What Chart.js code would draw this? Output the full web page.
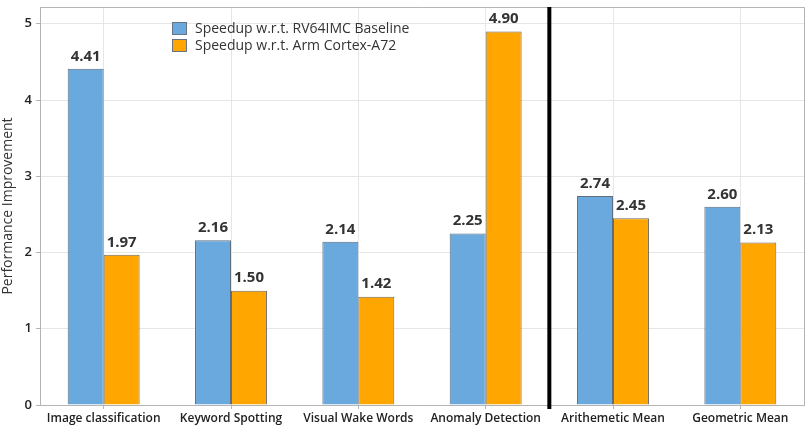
<!DOCTYPE html>
<html lang="en">
<head>
    <meta charset="UTF-8">
    <title>speedup</title>
    <style>
        html, body { margin: 0; padding: 0; background: #ffffff; }
        #wrap { width: 809px; height: 432px; }
    </style>
    <script src="https://cdn.jsdelivr.net/npm/chart.js"></script>
</head>
<body>
    <div id="wrap"><canvas id="graph" width="809" height="432"></canvas></div>
    <script>
        const categories = ["Image classification", "Keyword Spotting", "Visual Wake Words", "Anomaly Detection", "Arithemetic Mean", "Geometric Mean"];
        const rv64Speedup = [4.41, 2.16, 2.14, 2.25, 2.74, 2.60];
        const armSpeedup = [1.97, 1.50, 1.42, 4.90, 2.45, 2.13];
        const yTicks = [0, 1, 2, 3, 4, 5];
        const seriesNames = ["Speedup w.r.t. RV64IMC Baseline", "Speedup w.r.t. Arm Cortex-A72"];
        const seriesColors = ["#69a9dd", "#ffa600"];
        const fontFamily = "'Open Sans', 'Noto Sans', sans-serif";

        // values above bars, frame, divider line and inner legend
        const extras = {
            id: 'extras',
            afterDatasetsDraw(chart) {
                const ctx = chart.ctx;
                const area = chart.chartArea;
                ctx.save();
                ctx.font = "bold 15px " + fontFamily;
                ctx.fillStyle = "#333333";
                ctx.textAlign = "center";
                ctx.textBaseline = "bottom";
                chart.data.datasets.forEach((ds, i) => {
                    chart.getDatasetMeta(i).data.forEach((bar, j) => {
                        ctx.fillText(ds.data[j].toFixed(2), bar.x, bar.y - 5);
                    });
                });

                // frame on top and right
                ctx.strokeStyle = "#b4b4b4";
                ctx.lineWidth = 1;
                ctx.beginPath();
                ctx.moveTo(area.left, area.top + 0.5);
                ctx.lineTo(area.right + 0.5, area.top + 0.5);
                ctx.lineTo(area.right + 0.5, area.bottom);
                ctx.stroke();

                // divider between benchmarks and means
                const xs = chart.scales.x;
                const xd = (xs.getPixelForValue(3) + xs.getPixelForValue(4)) / 2;
                ctx.strokeStyle = "#000000";
                ctx.lineWidth = 4;
                ctx.beginPath();
                ctx.moveTo(xd, area.top);
                ctx.lineTo(xd, area.bottom + 4);
                ctx.stroke();

                // legend
                ctx.font = "14px " + fontFamily;
                ctx.textAlign = "left";
                ctx.textBaseline = "middle";
                ctx.lineWidth = 1;
                seriesNames.forEach((name, i) => {
                    const y = 22 + i * 17;
                    ctx.fillStyle = seriesColors[i];
                    ctx.fillRect(172, y, 15, 13);
                    ctx.strokeStyle = "#6a7480";
                    ctx.strokeRect(172.5, y + 0.5, 14, 12);
                    ctx.fillStyle = "#333333";
                    ctx.fillText(name, 195, y + 7);
                });
                ctx.restore();
            }
        };

        new Chart(document.getElementById('graph'), {
            type: 'bar',
            data: {
                labels: categories,
                datasets: [{
                    label: seriesNames[0],
                    data: rv64Speedup,
                    backgroundColor: seriesColors[0],
                    borderColor: "#5f6e7e",
                    borderWidth: 1
                }, {
                    label: seriesNames[1],
                    data: armSpeedup,
                    backgroundColor: seriesColors[1],
                    borderColor: "#6e6a60",
                    borderWidth: 1
                }]
            },
            options: {
                responsive: false,
                animation: false,
                layout: { padding: { top: 7, right: 5, left: 0, bottom: 0 } },
                datasets: { bar: { categoryPercentage: 0.565, barPercentage: 1.0 } },
                plugins: {
                    legend: { display: false },
                    tooltip: { enabled: false }
                },
                scales: {
                    x: {
                        grid: { offset: false, color: "#e6e6e6", tickLength: 4, tickColor: "#b4b4b4" },
                        border: { color: "#b4b4b4" },
                        ticks: {
                            color: "#222222",
                            font: { family: fontFamily, size: 12, weight: '600' },
                            padding: 2,
                            maxRotation: 0
                        },
                        afterFit(scale) { scale.height = 27; }
                    },
                    y: {
                        min: 0,
                        max: 5.22,
                        afterBuildTicks(scale) { scale.ticks = yTicks.map(v => ({ value: v })); },
                        grid: { color: "#e6e6e6", tickLength: 4, tickColor: "#b4b4b4" },
                        border: { color: "#b4b4b4" },
                        ticks: {
                            color: "#222222",
                            font: { family: fontFamily, size: 13, weight: '600' },
                            padding: 4
                        },
                        title: {
                            display: true,
                            text: "Performance Improvement",
                            color: "#333333",
                            font: { family: fontFamily, size: 14 },
                            padding: 0
                        },
                        afterFit(scale) {
                            scale.width = 40;
                            scale.paddingTop = 0;
                            scale.paddingBottom = 0;
                        }
                    }
                }
            },
            plugins: [extras]
        });
    </script>
</body>
</html>
